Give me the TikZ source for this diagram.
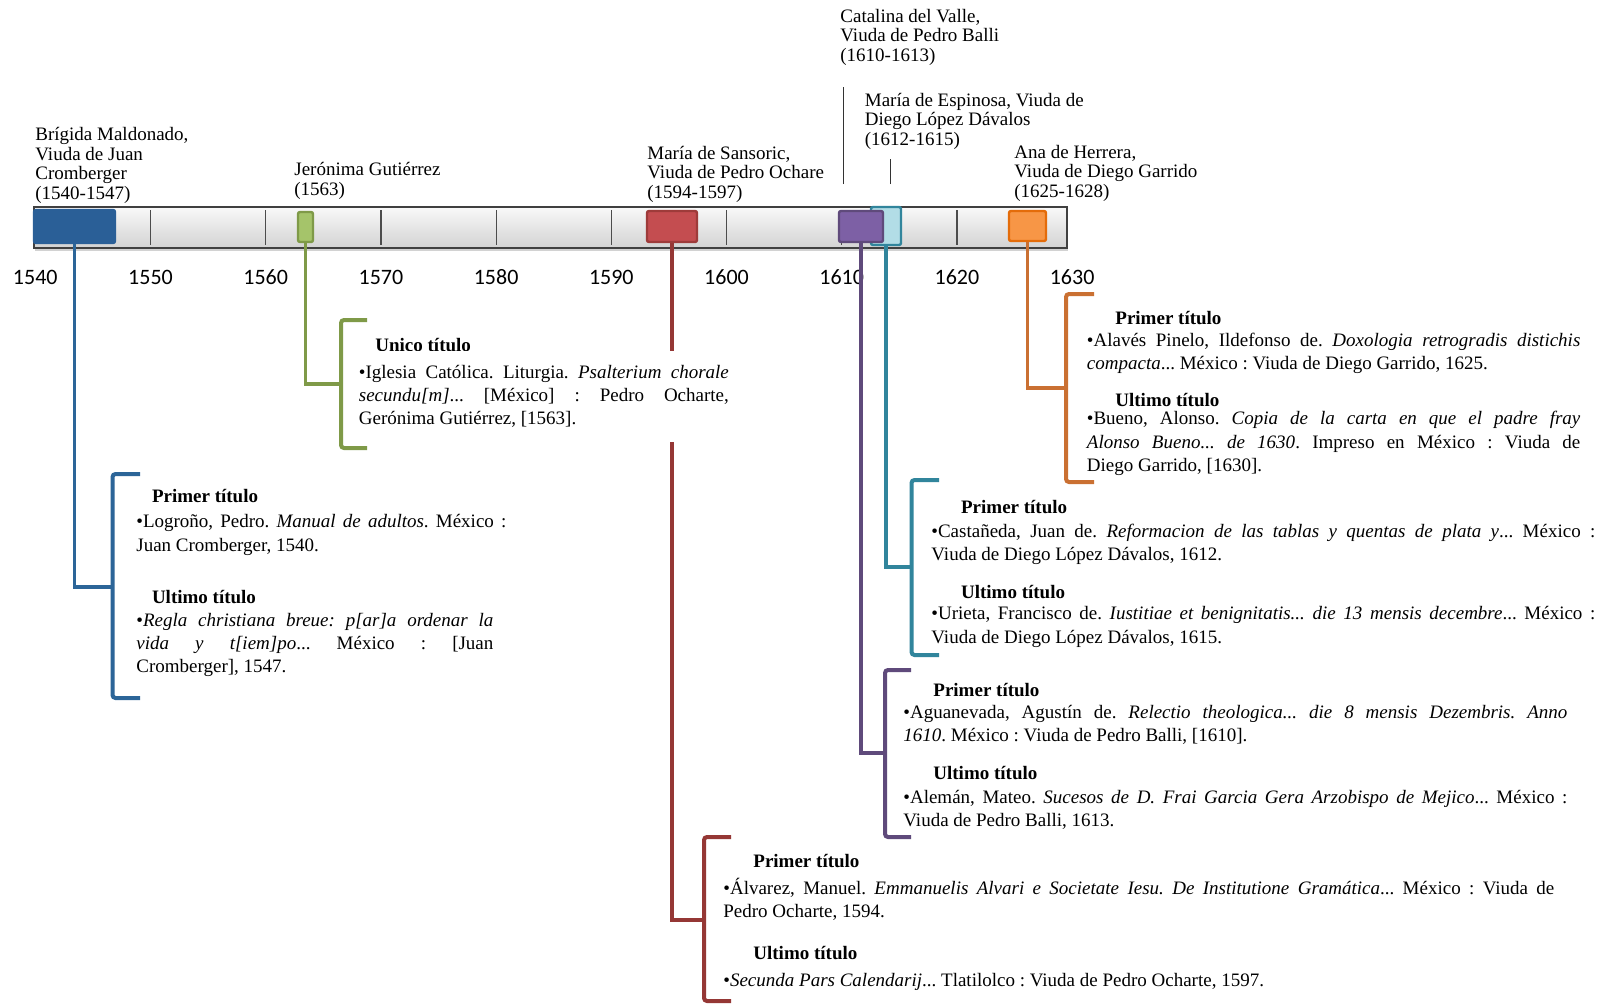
\documentclass[tikz,border=0pt]{standalone}
\usepackage{fontspec}
\setmainfont{Liberation Serif}
\newfontfamily\cifras{Carlito}
\usetikzlibrary{shadows}
\frenchspacing

\definecolor{azul}{HTML}{2A5F97}
\definecolor{azulosc}{HTML}{2C6598}
\definecolor{verde}{HTML}{7F9A48}
\definecolor{verdeclaro}{HTML}{A5C46A}
\definecolor{rojo}{HTML}{C44D50}
\definecolor{rojoosc}{HTML}{953735}
\definecolor{morado}{HTML}{7D60A5}
\definecolor{moradoosc}{HTML}{5F4A7B}
\definecolor{turquesa}{HTML}{31859C}
\definecolor{turquesaclaro}{HTML}{B2DDE6}
\definecolor{naranja}{HTML}{F79646}
\definecolor{naranjaosc}{HTML}{E46C0A}
\definecolor{naranjalinea}{HTML}{CA7032}

\newcommand{\cuerpo}{\fontsize{9.5}{11.6}\selectfont}
\newcommand{\rotulo}{\fontsize{9.5}{9.75}\selectfont}

\tikzset{
  barra/.style={draw=black!75, line width=0.7pt, top color=gray!5, bottom color=gray!35,
    drop shadow={opacity=0.35, shadow xshift=0.5pt, shadow yshift=-1.5pt}},
  periodo/.style={line width=1.2pt, rounded corners=1pt, inner sep=0pt},
  marca/.style={draw=black!70, line width=0.6pt},
  anio/.style={font=\cifras\fontsize{11}{13}\selectfont, inner sep=0pt},
  viuda/.style={anchor=west, align=left, inner sep=0pt, font=\rotulo},
  guia/.style={draw=black!80, line width=0.5pt},
  conector/.style={line width=1.6pt},
  llave/.style={line width=2pt, rounded corners=1.5pt},
  titulo/.style={anchor=west, inner sep=0pt, font=\cuerpo\bfseries},
  ficha/.style={anchor=west, inner sep=0pt, align=justify, font=\cuerpo},
}

\begin{document}
\begin{tikzpicture}[x=0.5pt,y=-0.5pt]
\useasboundingbox[fill=white] (0,0) rectangle (1606,1003);

% barra del tiempo
\node[barra, minimum width=516.5pt, minimum height=20.5pt] (barra) at (550.5,227.5) {};
\foreach \a in {1550,1560,...,1620}
  \draw[marca] ({35.3+(\a-1540)*11.52},210) -- ({35.3+(\a-1540)*11.52},245);
\foreach \a in {1540,1550,...,1630}
  \node[anio] (y\a) at ({35.3+(\a-1540)*11.52},277) {\a};

% periodos de cada viuda
\node[periodo, draw=turquesa, fill=turquesaclaro, minimum width=15pt, minimum height=19pt] (b1612) at (886,226) {};
\node[periodo, draw=azul, fill=azul, minimum width=40.5pt, minimum height=16.5pt] (b1540) at (74.5,226.5) {};
\node[periodo, draw=verde, fill=verdeclaro, minimum width=7.5pt, minimum height=15pt] (b1563) at (305.5,227) {};
\node[periodo, draw=rojoosc!80!rojo, fill=rojo, minimum width=25pt, minimum height=15.5pt] (b1594) at (672,226.5) {};
\node[periodo, draw=moradoosc, fill=morado, minimum width=22pt, minimum height=15.5pt] (b1610) at (861,226.5) {};
\node[periodo, draw=naranjaosc, fill=naranja, minimum width=18.5pt, minimum height=15pt] (b1625) at (1027.5,226) {};

% nombres
\node[viuda] (maldonado) at (35,165.5) {Brígida Maldonado,\\Viuda de Juan\\Cromberger\\(1540-1547)};
\node[viuda] (gutierrez) at (294,181) {Jerónima Gutiérrez\\(1563)};
\node[viuda] (sansoric) at (647,174) {María de Sansoric,\\Viuda de Pedro Ochare\\(1594-1597)};
\node[viuda] (valle) at (840,37) {Catalina del Valle,\\Viuda de Pedro Balli\\(1610-1613)};
\node[viuda] (espinosa) at (864.5,121) {María de Espinosa, Viuda de\\Diego López Dávalos\\(1612-1615)};
\node[viuda] (herrera) at (1014,173) {Ana de Herrera,\\Viuda de Diego Garrido\\(1625-1628)};

\coordinate (valle-pie) at (843,184);
\coordinate (espinosa-pie) at (890,184);
\draw[guia] (valle-pie) -- ++(0,-97);
\draw[guia] (espinosa-pie) -- ++(0,-25);

% conectores y llaves
\coordinate (k1540) at (112.5,587);
\coordinate (k1563) at (341,384);
\coordinate (k1594) at (704,920);
\coordinate (k1610) at (885,753);
\coordinate (k1612) at (911.5,567);
\coordinate (k1625) at (1066,388);

\draw[conector, azulosc] (b1540.south) |- (k1540);
\draw[llave, azulosc] (k1540) ++(27.5,-113) -| ++(-27.5,224) -- ++(27.5,0);
\draw[conector, verde] (b1563.south) |- (k1563);
\draw[llave, verde] (k1563) ++(26,-64) -| ++(-26,128) -- ++(26,0);
\draw[conector, rojoosc] (b1594.south) |- (k1594);
\draw[llave, rojoosc] (k1594) ++(27,-83) -| ++(-27,164) -- ++(27,0);
\draw[conector, moradoosc] (b1610.south) |- (k1610);
\draw[llave, moradoosc] (k1610) ++(26,-83) -| ++(-26,167) -- ++(26,0);
\draw[conector, turquesa] (b1612.south) |- (k1612);
\draw[llave, turquesa] (k1612) ++(27.5,-87) -| ++(-27.5,175) -- ++(27.5,0);
\draw[conector, naranjalinea] (b1625.south) |- (k1625);
\draw[llave, naranjalinea] (k1625) ++(28,-94) -| ++(-28,188) -- ++(28,0);

% fichas
\node[titulo] (p1540) at (151.6,496) {Primer título};
\node[ficha, text width=185pt] (f1540) at (136,535) {•Logroño, Pedro. \textit{Manual de adultos}. México :\linebreak Juan Cromberger, 1540.};
\node[titulo] (u1540) at (151.6,597) {Ultimo título};
\node[ficha, text width=178.5pt] (l1540) at (136,645) {•\textit{Regla christiana breue: p[ar]a ordenar la\linebreak vida y t[iem]po}... México : [Juan\linebreak Cromberger], 1547.};

\node[titulo] (u1563) at (375,345) {Unico título};
\node[ficha, text width=185pt, fill=white, minimum height=45.5pt] (f1563) at (358.5,396.5) {•Iglesia Católica. Liturgia. \textit{Psalterium chorale\linebreak secundu[m]}... [México] : Pedro Ocharte,\linebreak Gerónima Gutiérrez, [1563].};

\node[titulo] (p1594) at (753,861) {Primer título};
\node[ficha, text width=415.5pt] (f1594) at (723,899) {•Álvarez, Manuel. \textit{Emmanuelis Alvari e Societate Iesu. De Institutione Gramática}... México : Viuda de\linebreak Pedro Ocharte, 1594.};
\node[titulo] (u1594) at (753,952.5) {Ultimo título};
\node[ficha, text width=415.5pt] (l1594) at (723,982) {•\textit{Secunda Pars Calendarij}... Tlatilolco : Viuda de Pedro Ocharte, 1597.};

\node[titulo] (p1610) at (933,690) {Primer título};
\node[ficha, text width=332pt] (f1610) at (903,725) {•Aguanevada, Agustín de. \textit{Relectio theologica... die 8 mensis Dezembris. Anno\linebreak 1610}. México : Viuda de Pedro Balli, [1610].};
\node[titulo] (u1610) at (933,773) {Ultimo título};
\node[ficha, text width=332pt] (l1610) at (903,810) {•Alemán, Mateo. \textit{Sucesos de D. Frai Garcia Gera Arzobispo de Mejico}... México :\linebreak Viuda de Pedro Balli, 1613.};

\node[titulo] (p1612) at (960.7,507) {Primer título};
\node[ficha, text width=332pt] (f1612) at (931,544) {•Castañeda, Juan de. \textit{Reformacion de las tablas y quentas de plata y}... México :\linebreak Viuda de Diego López Dávalos, 1612.};
\node[titulo] (u1612) at (960.7,592) {Ultimo título};
\node[ficha, text width=332pt] (l1612) at (931,627) {•Urieta, Francisco de. \textit{Iustitiae et benignitatis... die 13 mensis decembre}... México :\linebreak Viuda de Diego López Dávalos, 1615.};

\node[titulo] (p1625) at (1115,318.5) {Primer título};
\node[ficha, text width=246.75pt] (f1625) at (1086.5,353) {•Alavés Pinelo, Ildefonso de. \textit{Doxologia retrogradis distichis\linebreak compacta}... México : Viuda de Diego Garrido, 1625.};
\node[titulo] (u1625) at (1115,400.5) {Ultimo título};
\node[ficha, text width=246.75pt] (l1625) at (1086.5,443.5) {•Bueno, Alonso. \textit{Copia de la carta en que el padre fray\linebreak Alonso Bueno... de 1630}. Impreso en México : Viuda de\linebreak Diego Garrido, [1630].};

\end{tikzpicture}
\end{document}
